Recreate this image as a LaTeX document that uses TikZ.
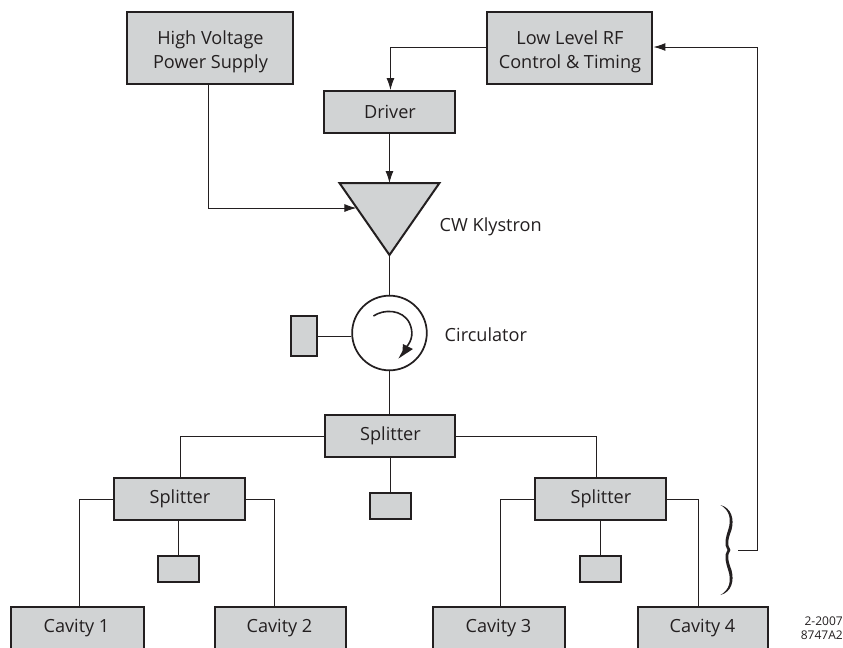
\documentclass[tikz,border=0pt]{standalone}
\usepackage{fontspec}
\setmainfont{Open Sans}
\usetikzlibrary{arrows.meta,calc}
\definecolor{boxgray}{RGB}{209,211,212}
\definecolor{ink}{RGB}{35,31,32}
\newcommand{\firstline}{\rule{0pt}{16pt}}
\tikzset{
  x=0.75pt,y=-0.75pt,
  blk/.style={draw=ink,line width=1.5pt,fill=boxgray,inner sep=0pt,align=center,font=\fontsize{13.6}{18.7}\selectfont,text=ink},
  box/.style n args={4}{blk,minimum width=#3*0.75pt,minimum height=#4*0.75pt,at={(#1,#2)},anchor=north west},
  wire/.style={draw=ink,line width=0.75pt},
  arr/.style={wire,-{Latex[length=9pt,width=6pt]}},
  lbl/.style={font=\fontsize{13.6}{18.7}\selectfont,text=ink,inner sep=0pt},
}
\begin{document}
\begin{tikzpicture}
\useasboundingbox (0,0) rectangle (843,647);
\begin{scope}[xshift=-0.4pt]
\node[box={127}{11}{166}{72}] (hv) {\firstline High Voltage\\Power Supply};
\node[box={487}{11}{165}{72}] (rf) {\firstline Low Level RF\\Control \& Timing};
\node[box={324}{90}{131}{42}] (drv) {Driver};
\node[box={325}{414}{130}{42}] (sp0) {Splitter};
\node[box={114}{477}{131}{42}] (sp1) {Splitter};
\node[box={535}{477}{131}{42}] (sp2) {Splitter};
\node[box={370}{492}{41}{26}] (l0) {};
\node[box={158}{555}{41}{26}] (l1) {};
\node[box={580}{555}{41}{26}] (l2) {};
\node[box={291}{315}{26}{40}] (lc) {};
\node[box={11}{606}{133}{50}] (c1) {};
\node[box={215}{606}{131}{50}] (c2) {};
\node[box={433}{606}{132}{50}] (c3) {};
\node[box={638}{606}{130}{50}] (c4) {};
\node[lbl] (t1) at (77,628) {Cavity 1};
\node[lbl] (t2) at (280,628) {Cavity 2};
\node[lbl] (t3) at (499,628) {Cavity 3};
\node[lbl] (t4) at (703,628) {Cavity 4};
% klystron
\coordinate (kl) at (340,183);
\coordinate (kr) at (440,183);
\coordinate (kb) at (390,255);
\coordinate (kt) at (390,183);
\coordinate (kin) at (357,208);
\draw[draw=ink,line width=1.5pt,fill=boxgray,line join=miter] (kl) -- (kr) -- (kb) -- cycle;
\node[lbl,anchor=west] (kt2) at (440,227) {CW Klystron};
% circulator
\node[draw=ink,line width=1.3pt,circle,minimum size=56pt,inner sep=0pt] (circ) at (390,333) {};
\node[lbl,anchor=west] (ct) at (445,335) {Circulator};
\draw[draw=ink,line width=1.2pt] (374,316) .. controls (384,309) and (403,309) .. (410,323) .. controls (414,332) and (413,340) .. (407,347);
\fill[ink] (403.5,344) -- (413.5,349) -- (399,358.5) -- (403,351) -- cycle;
% wires
\draw[arr] (rf.west |- 0,47) -| (391,90) coordinate (d1);
\draw[arr] (drv.south -| kt) -- (kt);
\draw[arr] (hv.south -| 209,0) |- (kin);
\draw[wire] (kb) -- (circ.north);
\draw[wire] (lc.east) -- (lc.east -| circ.west);
\draw[wire] (circ.south) -- (sp0.north -| circ.south);
\draw[wire] (sp0.west) -| (181,477);
\draw[wire] (sp0.east) -| (597,477);
\draw[wire] (sp0.south -| l0.north) -- (l0.north);
\draw[wire] (sp1.west) -| (80,606);
\draw[wire] (sp1.east) -| (275,606);
\draw[wire] (sp1.south -| l1.north) -- (l1.north);
\draw[wire] (sp2.west) -| (501,606);
\draw[wire] (sp2.east) -| (699,606);
\draw[wire] (sp2.south -| l2.north) -- (l2.north);
% brace and feedback
\coordinate (br) at (739,550);
\draw[arr] (br) -- (758,550) -- (758,47) -- (rf.east |- 0,47);
\fill[ink] (721,505) .. controls (732,508) and (735,519) .. (732,530) .. controls (729,538) and (727,545) .. (731,550)
 .. controls (727,555) and (729,562) .. (732,570) .. controls (735,581) and (732,592) .. (721,595)
 .. controls (730,590) and (732,581) .. (729,571) .. controls (726,562) and (724.5,555) .. (728,550)
 .. controls (724.5,545) and (726,538) .. (729,529) .. controls (732,519) and (730,510) .. (721,505) -- cycle;
\end{scope}
\node[font=\fontsize{9}{10.5}\selectfont,text=ink,inner sep=0pt,align=right,anchor=east] (stamp) at (843,628) {2-2007\\8747A2};
\end{tikzpicture}
\end{document}
